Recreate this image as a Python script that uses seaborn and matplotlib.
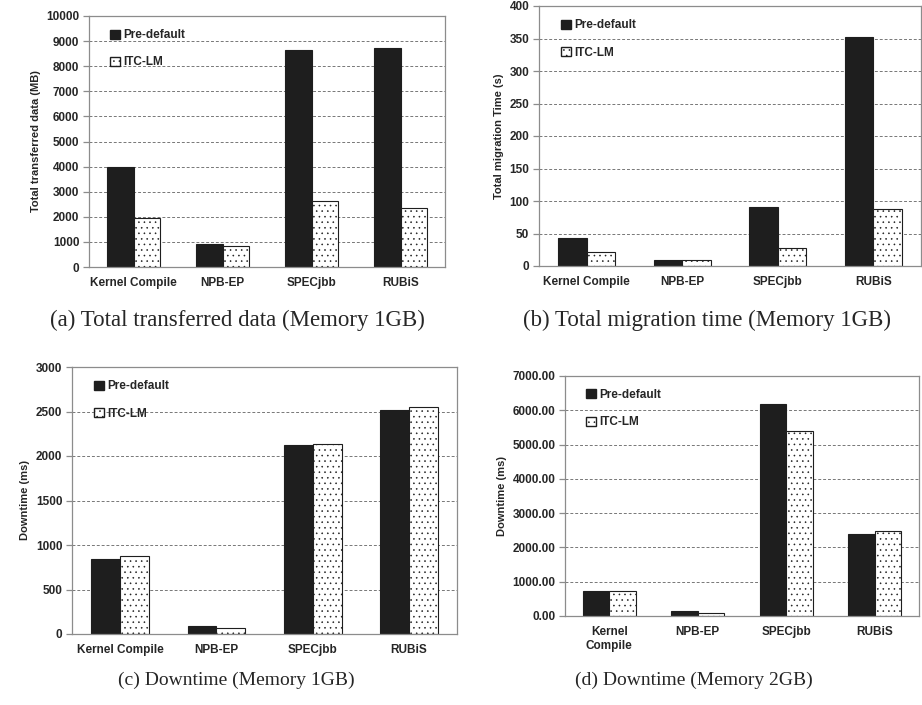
import numpy as np
import pandas as pd
import matplotlib
matplotlib.use("Agg")
import matplotlib.pyplot as plt
import seaborn as sns
from matplotlib.patches import Patch
from matplotlib.ticker import MultipleLocator, FixedLocator, FormatStrFormatter

# ---- data ----
benchmarks = ["Kernel Compile", "NPB-EP", "SPECjbb", "RUBiS"]
schemes = ["Pre-default", "ITC-LM"]

data_pre = [3990, 915, 8650, 8710]
data_itc = [1950, 850, 2640, 2335]

mig_pre = [43, 10, 91, 353]
mig_itc = [21, 8.5, 27, 88]

down1g_pre = [848, 94, 2122, 2520]
down1g_itc = [874, 64, 2134, 2552]

down2g_pre = [738, 155, 6175, 2398]
down2g_itc = [718, 97, 5398, 2466]

captions = ["(a) Total transferred data (Memory 1GB)",
            "(b) Total migration time (Memory 1GB)",
            "(c) Downtime (Memory 1GB)",
            "(d) Downtime (Memory 2GB)"]
ylabels = ["Total transferred data (MB)", "Total migration Time (s)",
           "Downtime (ms)", "Downtime (ms)"]

sns.set_theme(style="white")
plt.rcParams['font.family'] = ['Liberation Sans', 'DejaVu Sans']
plt.rcParams['hatch.linewidth'] = 0.4
plt.rcParams['hatch.color'] = '#9a9a9a'

HATCH_C = '#9a9a9a'


def dot_hatch(p):
    p.set_hatch("...")
    # matplotlib 3.10 ties the hatch colour to the edge unless told otherwise
    if hasattr(p, "set_hatchcolor"):
        p.set_hatchcolor(HATCH_C)


fig = plt.figure(figsize=(9.22, 7.05), dpi=100)

# axes boxes in pixels: left, right, top, bottom
boxes = [(89, 445, 16, 267), (539, 921, 6, 266),
         (72, 457, 367, 634), (565, 919, 376, 616)]
W, H = 922, 705

panels = [
    (data_pre, data_itc, 10000, 1000, "%d", benchmarks),
    (mig_pre, mig_itc, 400, 50, "%d", benchmarks),
    (down1g_pre, down1g_itc, 3000, 500, "%d", benchmarks),
    (down2g_pre, down2g_itc, 7000, 1000, "%.2f",
     ["Kernel\nCompile", "NPB-EP", "SPECjbb", "RUBiS"]),
]

# caption centre x, centre y, size (top captions are set wider in the source)
cap_pos = [(237, 320, 16.5), (707, 320, 16.5), (236, 680, 14), (694, 680, 14)]

gray = "#8c8c8c"
for i, (pre, itc, ymax, step, fmt, xt) in enumerate(panels):
    l, r, t, b = boxes[i]
    ax = fig.add_axes([l / W, 1 - b / H, (r - l) / W, (b - t) / H])
    df = pd.DataFrame({
        "benchmark": benchmarks * 2,
        "scheme": [schemes[0]] * 4 + [schemes[1]] * 4,
        "value": pre + itc,
    })
    sns.barplot(data=df, x="benchmark", y="value", hue="scheme",
                palette=["#1e1e1e", "white"], width=0.6, ax=ax,
                edgecolor="#1e1e1e", linewidth=0.8, legend=False)
    for p in ax.containers[1]:
        dot_hatch(p)
    ax.set_ylim(0, ymax)
    ax.set_xlim(-0.5, 3.5)
    ax.yaxis.set_major_locator(MultipleLocator(step))
    ax.yaxis.set_major_formatter(FormatStrFormatter(fmt))
    ax.yaxis.grid(True, linestyle=(0, (3, 2)), color="#777777", linewidth=0.7)
    ax.set_axisbelow(True)
    for s in ax.spines.values():
        s.set_color(gray)
        s.set_linewidth(0.9)
    ax.set_xticks(range(4))
    ax.set_xticklabels(xt, fontsize=8.5, fontweight="bold")
    ax.xaxis.set_minor_locator(FixedLocator([-0.5, 0.5, 1.5, 2.5, 3.5]))
    ax.tick_params(axis="x", which="major", length=0, pad=7)
    ax.tick_params(axis="x", which="minor", length=4, color=gray, width=0.9)
    ax.tick_params(axis="y", which="major", length=4, color=gray, width=0.9,
                   left=True, labelsize=8.5, pad=3)
    for lab in ax.get_yticklabels():
        lab.set_fontweight("bold")
    ax.set_xlabel("")
    ax.set_ylabel(ylabels[i], fontsize=8, fontweight="bold", labelpad=4)

    h_itc = Patch(facecolor="white", edgecolor="#1e1e1e", label=schemes[1])
    dot_hatch(h_itc)
    handles = [Patch(facecolor="#1e1e1e", edgecolor="#1e1e1e", label=schemes[0]),
               h_itc]
    ax.legend(handles=handles, loc="upper left", bbox_to_anchor=(0.03, 0.99),
              frameon=False, prop={"weight": "bold", "size": 8.5},
              handlelength=0.8, handleheight=0.8, handletextpad=0.3,
              labelspacing=1.3)

    cx, cy, fs = cap_pos[i]
    fig.text(cx / W, 1 - cy / H, captions[i], ha="center", va="center",
             fontsize=fs, family=["Liberation Serif", "DejaVu Serif"])

fig.savefig("out.png", dpi=100)
